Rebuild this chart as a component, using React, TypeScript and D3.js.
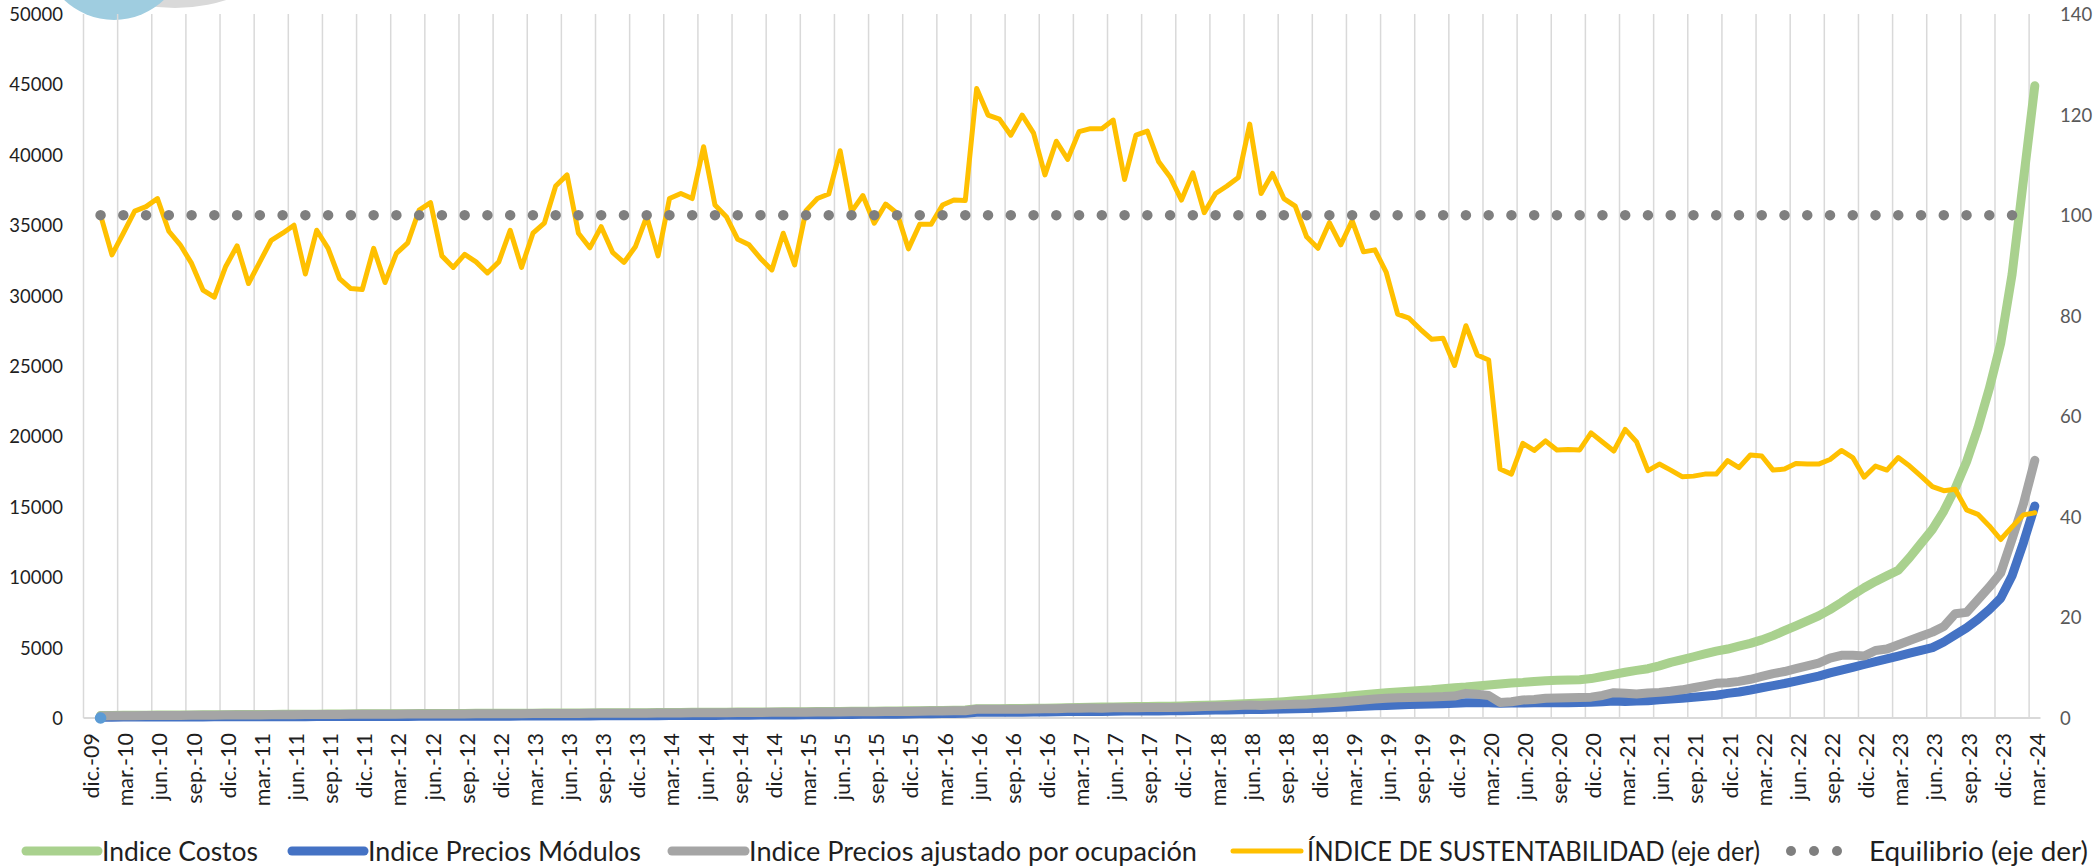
import React from 'react';
import * as d3 from 'd3';

// categories: dic-09 .. mar-24 (172 months), labels every 3 months
const tickLabels = [
  'dic.-09', 'mar.-10', 'jun.-10', 'sep.-10',
  'dic.-10', 'mar.-11', 'jun.-11', 'sep.-11',
  'dic.-11', 'mar.-12', 'jun.-12', 'sep.-12',
  'dic.-12', 'mar.-13', 'jun.-13', 'sep.-13',
  'dic.-13', 'mar.-14', 'jun.-14', 'sep.-14',
  'dic.-14', 'mar.-15', 'jun.-15', 'sep.-15',
  'dic.-15', 'mar.-16', 'jun.-16', 'sep.-16',
  'dic.-16', 'mar.-17', 'jun.-17', 'sep.-17',
  'dic.-17', 'mar.-18', 'jun.-18', 'sep.-18',
  'dic.-18', 'mar.-19', 'jun.-19', 'sep.-19',
  'dic.-19', 'mar.-20', 'jun.-20', 'sep.-20',
  'dic.-20', 'mar.-21', 'jun.-21', 'sep.-21',
  'dic.-21', 'mar.-22', 'jun.-22', 'sep.-22',
  'dic.-22', 'mar.-23', 'jun.-23', 'sep.-23',
  'dic.-23', 'mar.-24',
];
const nCategories = 172;
const firstDataIndex = 1; // series start at ene-10

// monthly values ene-10 .. mar-24
const indiceCostos = [
  180, 185, 190, 195, 200, 205, 210, 215, 220, 225, 230, 235,
  240, 245, 250, 255, 260, 265, 270, 275, 280, 285, 290, 295,
  300, 303, 306, 310, 313, 316, 320, 323, 326, 330, 333, 336,
  340, 343, 346, 350, 353, 356, 360, 363, 366, 370, 373, 376,
  380, 385, 390, 395, 400, 405, 410, 415, 420, 425, 430, 435,
  440, 445, 450, 455, 460, 465, 475, 480, 485, 490, 500, 510,
  520, 530, 540, 555, 570, 650, 660, 665, 670, 680, 690, 700,
  715, 730, 745, 760, 775, 790, 800, 810, 820, 830, 840, 860,
  880, 900, 930, 960, 990, 1030, 1070, 1110, 1160, 1220, 1280, 1350,
  1420, 1500, 1580, 1660, 1730, 1790, 1850, 1900, 1950, 2000, 2080, 2150,
  2200, 2280, 2350, 2420, 2480, 2530, 2600, 2650, 2680, 2700, 2720, 2800,
  2950, 3100, 3250, 3380, 3500, 3700, 3950, 4150, 4350, 4550, 4750, 4900,
  5100, 5300, 5550, 5850, 6200, 6550, 6900, 7250, 7700, 8200, 8750, 9250,
  9700, 10100, 10500, 11400, 12400, 13400, 14700, 16300, 18200, 20600, 23400, 26600,
  31500, 38200, 44900,
];

const indicePreciosModulos = [
  60, 62, 64, 66, 68, 70, 72, 74, 76, 78, 80, 82,
  84, 86, 88, 90, 92, 94, 96, 98, 100, 102, 104, 106,
  108, 110, 112, 114, 116, 118, 120, 122, 124, 126, 128, 130,
  132, 134, 136, 138, 140, 142, 145, 148, 151, 154, 157, 160,
  163, 166, 170, 174, 178, 182, 186, 190, 195, 200, 205, 210,
  215, 220, 225, 230, 235, 240, 250, 260, 265, 270, 275, 285,
  295, 305, 315, 325, 335, 400, 405, 410, 410, 415, 420, 430,
  440, 455, 465, 470, 470, 480, 490, 495, 500, 505, 510, 520,
  530, 545, 560, 575, 590, 610, 600, 625, 640, 660, 680, 700,
  730, 760, 800, 840, 870, 890, 920, 950, 980, 1000, 1020, 1040,
  1080, 1090, 1080, 1050, 1060, 1070, 1080, 1090, 1090, 1090, 1100, 1120,
  1160, 1200, 1180, 1200, 1230, 1300, 1350, 1400, 1480, 1550, 1620, 1750,
  1850, 1990, 2150, 2300, 2450, 2620, 2800, 2980, 3200, 3400, 3600, 3800,
  4000, 4200, 4400, 4600, 4800, 5000, 5400, 5900, 6400, 7000, 7700, 8500,
  10100, 12450, 15050,
];

const indicePreciosAjustado = [
  150, 155, 160, 165, 170, 175, 180, 185, 190, 195, 200, 205,
  210, 215, 220, 225, 230, 235, 240, 245, 250, 255, 260, 265,
  270, 272, 275, 278, 280, 283, 286, 290, 293, 296, 300, 303,
  306, 310, 313, 316, 320, 323, 326, 330, 333, 336, 340, 343,
  346, 350, 355, 360, 365, 370, 375, 380, 385, 390, 395, 400,
  405, 410, 415, 420, 425, 430, 440, 445, 450, 455, 460, 470,
  480, 490, 500, 510, 520, 620, 630, 630, 625, 630, 640, 650,
  660, 690, 700, 705, 700, 720, 730, 735, 740, 745, 750, 770,
  790, 810, 830, 850, 880, 920, 890, 930, 950, 980, 1000, 1040,
  1080, 1130, 1200, 1280, 1350, 1400, 1430, 1460, 1480, 1500, 1520, 1560,
  1750, 1680, 1600, 1100, 1150, 1280, 1320, 1400, 1420, 1440, 1460, 1480,
  1600, 1800, 1750, 1700, 1780, 1820, 1900, 2000, 2150, 2300, 2460, 2500,
  2600, 2750, 2950, 3150, 3300, 3500, 3700, 3900, 4250, 4450, 4450, 4400,
  4800, 4900, 5200, 5500, 5800, 6100, 6500, 7400, 7500, 8400, 9300, 10300,
  12700, 15200, 18300,
];

const indiceSustentabilidad = [
  100.0, 92.1, 96.4, 100.8, 101.7, 103.3, 96.8, 94.1, 90.4, 85.1, 83.7, 89.8,
  93.9, 86.4, 90.7, 95.0, 96.4, 98.0, 88.3, 97.0, 93.4, 87.4, 85.4, 85.2,
  93.4, 86.6, 92.4, 94.5, 101.0, 102.5, 91.9, 89.6, 92.2, 90.7, 88.5, 90.7,
  97.0, 89.6, 96.4, 98.4, 105.8, 108.0, 96.4, 93.5, 97.7, 92.6, 90.6, 93.7,
  99.7, 91.9, 103.3, 104.3, 103.3, 113.6, 102.0, 99.7, 95.2, 94.1, 91.4, 89.1,
  96.4, 90.1, 100.9, 103.3, 104.2, 112.8, 100.7, 103.9, 98.4, 102.2, 100.4, 93.3,
  98.2, 98.2, 102.0, 103.0, 102.9, 125.2, 119.9, 119.1, 115.9, 119.9, 116.3, 108.0,
  114.7, 111.1, 116.6, 117.2, 117.2, 118.9, 107.1, 115.9, 116.7, 110.6, 107.6, 103.0,
  108.4, 100.5, 104.3, 105.8, 107.5, 118.1, 104.3, 108.3, 103.3, 101.8, 95.7, 93.4,
  98.5, 94.1, 98.9, 92.7, 93.1, 88.6, 80.3, 79.5, 77.3, 75.3, 75.5, 70.1,
  78.0, 72.2, 71.2, 49.5, 48.5, 54.6, 53.2, 55.1, 53.3, 53.4, 53.3, 56.7,
  54.9, 53.1, 57.4, 54.9, 49.2, 50.5, 49.3, 48.0, 48.1, 48.5, 48.5, 51.2,
  49.8, 52.3, 52.1, 49.3, 49.5, 50.6, 50.5, 50.5, 51.4, 53.2, 51.8, 47.9,
  50.1, 49.3, 51.8, 50.1, 48.1, 46.0, 45.2, 45.5, 41.4, 40.5, 38.2, 35.5,
  38.0, 40.4, 40.8,
];

const equilibrio = 100;
const leftTicks = [0, 5000, 10000, 15000, 20000, 25000, 30000, 35000, 40000, 45000, 50000];
const rightTicks = [0, 20, 40, 60, 80, 100, 120, 140];

const W = 2098;
const H = 868;
const plotLeft = 83.5;
const plotRight = 2040.5;
const plotTop = 14;
const plotBottom = 718;
const font = 'Lato, "Liberation Sans", Arial, sans-serif';
const textColor = '#1f1f1f';

const x = d3.scaleLinear().domain([-0.5, nCategories - 0.5]).range([plotLeft, plotRight]);
const yL = d3.scaleLinear().domain([0, 50000]).range([plotBottom, plotTop]);
const yR = d3.scaleLinear().domain([0, 140]).range([plotBottom, plotTop]);

const lineL = d3.line<number>()
  .x((_, i) => x(i + firstDataIndex))
  .y(d => yL(d));
const lineR = d3.line<number>()
  .x((_, i) => x(i + firstDataIndex))
  .y(d => yR(d));

const lastIndex = firstDataIndex + indiceCostos.length - 1;

// legend layout (swatch ends, text start and text width)
const legendItems = [
  { label: 'Indice Costos', color: '#a9d18e', width: 9, x1: 26, x2: 98, tx: 102, tw: 156 },
  { label: 'Indice Precios Módulos', color: '#4472c4', width: 9, x1: 292, x2: 364, tx: 368, tw: 273 },
  { label: 'Indice Precios ajustado por ocupación', color: '#a5a5a5', width: 9, x1: 672, x2: 745, tx: 749, tw: 448 },
  { label: 'ÍNDICE DE SUSTENTABILIDAD (eje der)', color: '#ffc000', width: 5, x1: 1233, x2: 1301, tx: 1307, tw: 453 },
];

export default function App() {
  const legendY = 851;
  return (
    <svg width={W} height={H} style={{ position: 'absolute', left: 0, top: 0, background: '#fff' }}
      fontFamily={font}>
      {/* logo fragments peeking in at the top */}
      <circle cx={175} cy={-160} r={168} fill="#d9d9d9" />
      <circle cx={114} cy={-52} r={72} fill="#9fcde0" />

      {/* vertical gridlines every 3 months */}
      {d3.range(0, nCategories, 3).map(i => (
        <line key={i} x1={x(i - 0.5)} x2={x(i - 0.5)} y1={plotTop} y2={plotBottom}
          stroke="#d9d9d9" strokeWidth={1.5} />
      ))}
      <line x1={plotLeft} x2={plotRight} y1={plotBottom} y2={plotBottom} stroke="#d9d9d9" strokeWidth={2} />

      {/* left axis labels */}
      {leftTicks.map(t => (
        <text key={t} x={63} y={yL(t)} textAnchor="end" dominantBaseline="central"
          fontSize={18.5} fill={textColor}>{t}</text>
      ))}
      {/* right axis labels */}
      {rightTicks.map(t => (
        <text key={t} x={2060} y={yR(t)} textAnchor="start" dominantBaseline="central"
          fontSize={18.5} fill="#595959">{t}</text>
      ))}
      {/* category labels */}
      {tickLabels.map((lab, k) => {
        const cx = x(k * 3) + 2;
        return (
          <text key={lab} transform={`translate(${cx},733) rotate(-90)`} textAnchor="end"
            dominantBaseline="central" fontSize={21.5} fill={textColor}>{lab}</text>
        );
      })}

      {/* series */}
      <path d={lineL(indiceCostos) || ''} fill="none" stroke="#a9d18e" strokeWidth={9}
        strokeLinejoin="round" strokeLinecap="round" />
      <path d={lineL(indicePreciosModulos) || ''} fill="none" stroke="#4472c4" strokeWidth={9}
        strokeLinejoin="round" strokeLinecap="round" />
      <path d={lineL(indicePreciosAjustado) || ''} fill="none" stroke="#a5a5a5" strokeWidth={9}
        strokeLinejoin="round" strokeLinecap="round" />
      <circle cx={x(firstDataIndex)} cy={yL(0)} r={5.8} fill="#5b9bd5" />
      <path d={lineR(indiceSustentabilidad) || ''} fill="none" stroke="#ffc000" strokeWidth={5}
        strokeLinejoin="round" strokeLinecap="round" />
      <line x1={x(firstDataIndex)} x2={x(lastIndex)} y1={yR(equilibrio)} y2={yR(equilibrio)}
        stroke="#7f7f7f" strokeWidth={10.5} strokeLinecap="round"
        strokeDasharray={`0 ${x(2) - x(0)}`} />

      {/* legend */}
      {legendItems.map(it => (
        <g key={it.label}>
          <line x1={it.x1} x2={it.x2} y1={legendY} y2={legendY} stroke={it.color}
            strokeWidth={it.width} strokeLinecap="round" />
          <text x={it.tx} y={legendY} dominantBaseline="central" fontSize={26} fill={textColor}
            textLength={it.tw} lengthAdjust="spacingAndGlyphs">{it.label}</text>
        </g>
      ))}
      {[1791, 1814, 1837].map(cx => (
        <circle key={cx} cx={cx} cy={legendY} r={5} fill="#7f7f7f" />
      ))}
      <text x={1869} y={legendY} dominantBaseline="central" fontSize={26} fill={textColor}
        textLength={219} lengthAdjust="spacingAndGlyphs">Equilibrio (eje der)</text>
    </svg>
  );
}
